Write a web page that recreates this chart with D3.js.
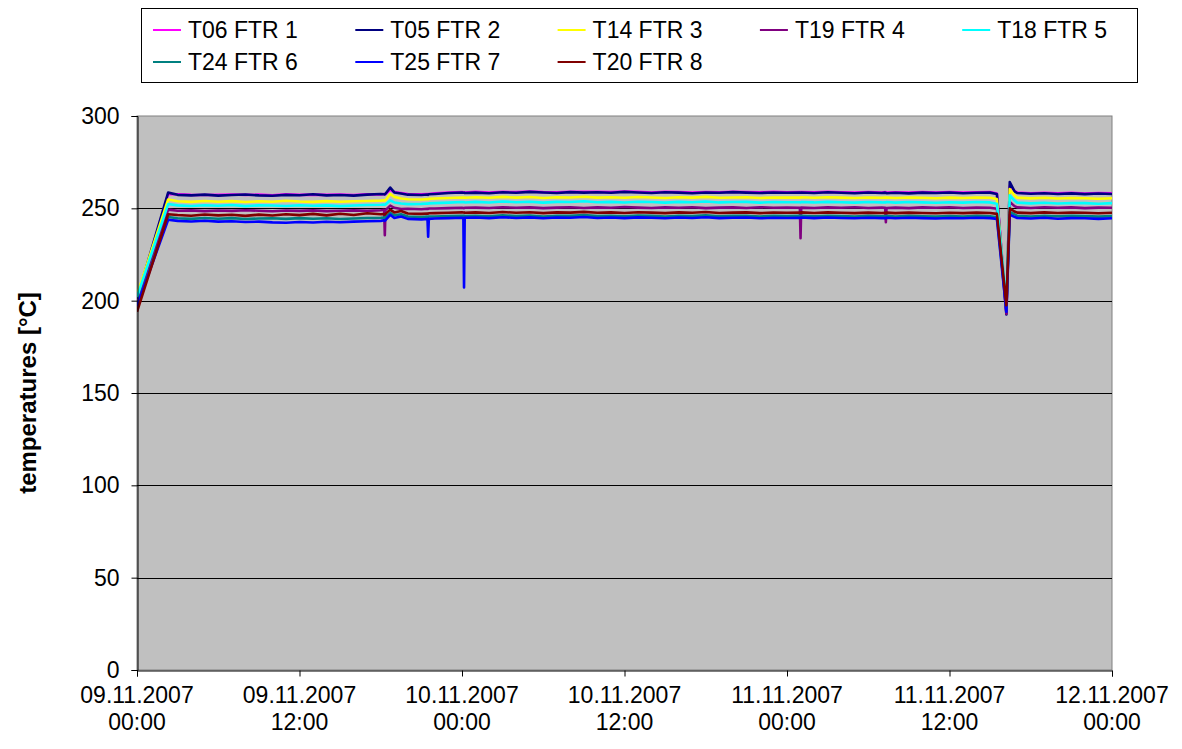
<!DOCTYPE html>
<html>
<head>
<meta charset="utf-8">
<script src="https://cdn.jsdelivr.net/npm/d3@7"></script>
<style>
  html, body { margin: 0; padding: 0; background: #ffffff; }
  svg { display: block; }
  text { font-family: "Liberation Sans", Arial, sans-serif; fill: #000; }
</style>
</head>
<body>
<svg id="chart" width="1182" height="749"></svg>
<script>
// ---------- data ----------
const startDate = new Date(2007, 10, 9, 0, 0);   // 09.11.2007 00:00
const hours = [
  0, 2.3,
  3, 4, 5, 6, 7, 8, 9, 10, 11, 12, 13, 14, 15, 16, 17, 18,
  18.25, 18.3, 18.35,
  18.7, 19, 19.5, 20, 21,
  21.45, 21.5, 21.55,
  22, 23, 24,
  24.1, 24.15, 24.2,
  25, 26, 27, 28, 29, 30, 31, 32, 33, 34, 35, 36, 37, 38, 39, 40, 41, 42, 43, 44, 45, 46, 47, 48,
  48.95, 49, 49.05,
  50, 51, 52, 53, 54, 55,
  55.25, 55.3, 55.35,
  56, 57, 58, 59, 60, 61, 62, 63,
  63.5, 64.2, 64.45, 64.8,
  65, 66, 67, 68, 69, 70, 71, 72
];

const seriesNames  = ["T06 FTR 1", "T05 FTR 2", "T14 FTR 3", "T19 FTR 4", "T18 FTR 5", "T24 FTR 6", "T25 FTR 7", "T20 FTR 8"];
const seriesColors = ["#FF00FF", "#000080", "#FFFF00", "#800080", "#00FFFF", "#008080", "#0000FF", "#800000"];

const t06 = [
  200, 257.8,
  257.6, 257.3, 257.2, 257.3, 257.5, 257.3, 257.4, 257.1, 257.6, 257.3, 257.4, 257.3, 257.5, 257.2, 257.6, 257.5,
  257.8, 257.6, 257.7,
  260.0, 258.8, 258.3, 257.8, 257.6,
  257.8, 257.7, 257.8,
  258.2, 258.6, 258.8,
  258.7, 258.7, 258.6,
  258.9, 258.6, 258.9, 258.8, 259.1, 258.8, 258.7, 259.0, 258.9, 258.9, 258.8, 259.1, 258.9, 258.6, 259.0, 258.8, 258.6, 258.8, 258.7, 259.0, 258.8, 258.7, 258.9, 258.7,
  258.8, 258.7, 258.8,
  258.7, 258.9, 258.7, 258.6, 258.8, 258.6,
  258.8, 258.7, 258.6,
  258.7, 258.5, 258.8, 258.6, 258.8, 258.5, 258.7, 258.8,
  258.0, 194.0, 262.0, 259.5,
  258.5, 258.2, 258.4, 258.1, 258.4, 258.0, 258.3, 258.1
];
const t05 = [
  201, 258.5,
  257.3, 257.0, 257.4, 256.9, 257.2, 257.5, 257.0, 256.8, 257.3, 257.1, 257.6, 257.0, 257.2, 256.9, 257.4, 257.8,
  257.6, 257.5, 257.9,
  261.2, 258.6, 258.0, 257.4, 257.2,
  257.5, 257.3, 257.6,
  257.8, 258.3, 258.6,
  258.4, 258.5, 258.3,
  258.5, 258.2, 258.7, 258.4, 258.9, 258.6, 258.3, 258.8, 258.5, 258.7, 258.4, 258.9, 258.6, 258.3, 258.7, 258.5, 258.2, 258.6, 258.4, 258.8, 258.5, 258.3, 258.6, 258.4,
  258.5, 258.4, 258.6,
  258.3, 258.7, 258.4, 258.2, 258.6, 258.3,
  258.5, 258.4, 258.2,
  258.4, 258.1, 258.5, 258.3, 258.6, 258.2, 258.4, 258.5,
  257.8, 192.5, 264.2, 259.2,
  258.3, 257.9, 258.2, 257.8, 258.1, 257.7, 258.0, 257.8
];
const t14 = [
  203, 254.8,
  253.8, 253.5, 254.0, 253.6, 253.9, 253.4, 253.8, 253.6, 254.1, 253.7, 253.5, 253.9, 253.6, 253.8, 254.0, 254.2,
  254.3, 254.2, 254.4,
  257.8, 256.2, 255.3, 254.9, 254.8,
  255.0, 254.9, 255.1,
  255.3, 255.6, 255.9,
  255.8, 255.9, 255.7,
  256.0, 255.7, 256.2, 255.8, 256.1, 255.6, 256.0, 255.9, 256.3, 255.8, 256.0, 255.7, 256.1, 255.9, 255.6, 256.0, 255.8, 256.2, 255.7, 255.9, 256.0, 255.6, 255.9, 255.8,
  255.9, 255.8, 256.0,
  255.7, 256.0, 255.8, 255.6, 255.9, 255.7,
  255.8, 255.7, 255.9,
  255.6, 255.9, 255.7, 255.5, 255.8, 255.6, 255.9, 255.7,
  255.0, 195.5, 260.5, 257.0,
  255.8, 255.4, 255.7, 255.3, 255.6, 255.5, 255.2, 255.5
];
const t19 = [
  198, 249.3,
  248.7, 248.9, 248.5, 248.8, 248.6, 249.0, 248.7, 248.4, 248.8, 248.6, 248.9, 248.5, 248.7, 248.9, 248.6, 249.0,
  249.2, 235.5, 249.0,
  251.5, 250.3, 249.6, 249.8, 249.5,
  249.8, 249.7, 249.9,
  249.9, 250.1, 250.3,
  250.2, 250.1, 250.3,
  250.4, 250.2, 250.6, 250.3, 250.5, 250.1, 250.4, 250.6, 250.2, 250.5, 250.3, 250.7, 250.4, 250.2, 250.5, 250.3, 250.6, 250.1, 250.4, 250.5, 250.2, 250.6, 250.3, 250.4,
  250.3, 233.8, 250.4,
  250.2, 250.5, 250.3, 250.6, 250.2, 250.4,
  250.3, 242.5, 250.2,
  250.4, 250.1, 250.5, 250.3, 250.6, 250.2, 250.4, 250.3,
  249.8, 193.0, 253.5, 251.2,
  250.5, 250.2, 250.6, 250.3, 250.5, 250.1, 250.4, 250.3
];
const t18 = [
  202, 252.3,
  251.6, 251.3, 251.7, 251.4, 251.8, 251.2, 251.6, 251.5, 251.3, 251.7, 251.4, 251.6, 251.2, 251.5, 251.8, 251.9,
  252.0, 251.9, 252.1,
  254.3, 253.2, 252.6, 252.3, 252.4,
  252.6, 252.5, 252.7,
  252.8, 253.1, 253.4,
  253.3, 253.4, 253.2,
  253.5, 253.2, 253.7, 253.3, 253.6, 253.1, 253.5, 253.4, 253.8, 253.3, 253.5, 253.2, 253.6, 253.4, 253.1, 253.5, 253.3, 253.7, 253.2, 253.4, 253.5, 253.1, 253.4, 253.3,
  253.3, 253.2, 253.4,
  253.2, 253.5, 253.3, 253.1, 253.4, 253.2,
  253.3, 253.2, 253.4,
  253.1, 253.4, 253.2, 253.0, 253.3, 253.1, 253.4, 253.2,
  252.5, 199.0, 257.0, 254.2,
  253.1, 252.7, 253.0, 252.6, 252.9, 252.8, 252.5, 252.8
];
const t24 = [
  197, 245.3,
  244.6, 244.3, 244.8, 244.4, 244.7, 244.2, 244.5, 244.6, 244.3, 244.7, 244.4, 244.6, 244.2, 244.5, 244.8, 244.9,
  245.0, 244.9, 245.1,
  247.5, 246.2, 246.8, 245.6, 245.3,
  245.5, 245.4, 245.6,
  245.6, 245.8, 246.0,
  245.9, 246.0, 245.8,
  246.0, 245.7, 246.2, 245.8, 246.1, 245.6, 246.0, 245.9, 246.3, 245.8, 246.0, 245.7, 246.1, 245.9, 245.6, 246.0, 245.8, 246.2, 245.7, 245.9, 246.0, 245.6, 245.9, 245.8,
  245.9, 245.8, 246.0,
  245.7, 246.0, 245.8, 245.6, 245.9, 245.7,
  245.8, 245.7, 245.9,
  245.6, 245.9, 245.7, 245.5, 245.8, 245.6, 245.9, 245.7,
  245.2, 196.0, 248.0, 246.8,
  245.9, 245.6, 246.0, 245.7, 245.9, 245.8, 245.5, 245.8
];
const t25 = [
  197, 243.8,
  243.2, 242.9, 243.3, 242.8, 243.0, 242.6, 242.8, 242.4, 242.2, 242.6, 242.3, 242.7, 242.5, 242.8, 243.0, 243.2,
  243.5, 243.2, 243.6,
  246.5, 244.8, 245.6, 244.3, 244.0,
  244.2, 234.6, 244.3,
  244.5, 244.7, 244.9,
  244.8, 207.2, 244.9,
  245.0, 244.7, 245.2, 244.8, 245.1, 244.6, 245.0, 244.9, 245.3, 244.8, 245.0, 244.7, 245.1, 244.9, 244.6, 245.0, 244.8, 245.2, 244.7, 244.9, 245.0, 244.6, 244.9, 244.8,
  244.9, 244.8, 245.0,
  244.7, 245.0, 244.8, 244.6, 244.9, 244.7,
  244.8, 244.7, 244.9,
  244.6, 244.9, 244.7, 244.5, 244.8, 244.6, 244.9, 244.7,
  244.3, 194.0, 246.5, 245.4,
  244.8, 244.5, 244.9, 244.4, 244.7, 244.6, 244.3, 244.6
];
const t20 = [
  194, 246.8,
  246.4, 246.0, 246.7, 246.2, 246.5, 245.9, 246.6, 246.1, 246.8, 246.3, 247.0, 246.2, 247.1, 246.4, 247.3, 246.8,
  246.9, 246.7, 247.0,
  249.3, 247.8, 248.6, 247.2, 247.0,
  247.2, 247.1, 247.3,
  247.4, 247.6, 247.8,
  247.7, 247.8, 247.6,
  247.8, 247.5, 248.0, 247.6, 247.9, 247.4, 247.8, 247.7, 248.1, 247.6, 247.8, 247.5, 247.9, 247.7, 247.4, 247.8, 247.6, 248.0, 247.5, 247.7, 247.8, 247.4, 247.7, 247.6,
  247.7, 247.6, 247.8,
  247.5, 247.8, 247.6, 247.4, 247.7, 247.5,
  247.6, 247.5, 247.7,
  247.4, 247.7, 247.5, 247.3, 247.6, 247.4, 247.7, 247.5,
  247.0, 197.5, 250.0, 248.3,
  247.7, 247.4, 247.8, 247.5, 247.7, 247.6, 247.3, 247.6
];
const seriesValues = [t06, t05, t14, t19, t18, t24, t25, t20];

const yTicks = [0, 50, 100, 150, 200, 250, 300];
const xTickHours = [0, 12, 24, 36, 48, 60, 72];
const yTitle = "temperatures [°C]";

// ---------- layout ----------
const svg = d3.select("#chart");
const plot = { left: 137, right: 1112, top: 116, bottom: 670 };
const FONT = 23;

const toDate = h => new Date(startDate.getTime() + h * 3600 * 1000);

const x = d3.scaleTime()
  .domain([toDate(0), toDate(72)])
  .range([plot.left, plot.right]);
const y = d3.scaleLinear()
  .domain([0, 300])
  .range([plot.bottom, plot.top]);

// plot area background
svg.append("rect")
  .attr("x", plot.left).attr("y", plot.top)
  .attr("width", plot.right - plot.left).attr("height", plot.bottom - plot.top)
  .attr("fill", "#C0C0C0")
  .attr("stroke", "#808080").attr("stroke-width", 1);

// gridlines
svg.append("g").selectAll("line")
  .data(yTicks.filter(v => v > 0 && v < 300))
  .join("line")
  .attr("x1", plot.left).attr("x2", plot.right)
  .attr("y1", d => Math.round(y(d)) + 0.5).attr("y2", d => Math.round(y(d)) + 0.5)
  .attr("stroke", "#000").attr("stroke-width", 1);

// series lines
const line = d3.line()
  .x((d, i) => x(toDate(hours[i])))
  .y(d => y(d));

svg.append("clipPath").attr("id", "plotclip")
  .append("rect")
  .attr("x", plot.left).attr("y", plot.top)
  .attr("width", plot.right - plot.left).attr("height", plot.bottom - plot.top);

const lines = svg.append("g").attr("clip-path", "url(#plotclip)");
seriesValues.forEach((vals, k) => {
  lines.append("path")
    .datum(vals)
    .attr("d", line)
    .attr("fill", "none")
    .attr("stroke", seriesColors[k])
    .attr("stroke-width", 2.6)
    .attr("stroke-linejoin", "round");
});

// y axis
const yAxis = d3.axisLeft(y).tickValues(yTicks).tickSize(6).tickPadding(12).tickFormat(d3.format("d"));
const gy = svg.append("g")
  .attr("transform", `translate(${plot.left + 0.5},0)`)
  .call(yAxis);
gy.select(".domain").attr("stroke", "#000");
gy.selectAll(".tick line").attr("stroke", "#000");
gy.selectAll(".tick text")
  .style("font-family", '"Liberation Sans", Arial, sans-serif')
  .style("font-size", FONT + "px")
  .attr("fill", "#000");

// x axis
const xAxis = d3.axisBottom(x)
  .tickValues(xTickHours.map(toDate))
  .tickSize(6)
  .tickFormat("");
const gx = svg.append("g")
  .attr("transform", `translate(0,${plot.bottom + 0.5})`)
  .call(xAxis);
gx.select(".domain").attr("stroke", "#000");
gx.selectAll(".tick line").attr("stroke", "#000");

const fmtDay = d3.timeFormat("%d.%m.%Y");
const fmtTime = d3.timeFormat("%H:%M");
const xl = svg.append("g").selectAll("text")
  .data(xTickHours.map(toDate))
  .join("text")
  .attr("x", d => x(d))
  .attr("text-anchor", "middle")
  .style("font-size", FONT + "px");
xl.append("tspan").attr("x", d => x(d)).attr("y", 703).text(d => fmtDay(d));
xl.append("tspan").attr("x", d => x(d)).attr("y", 730).text(d => fmtTime(d));

// y title
svg.append("text")
  .attr("transform", `translate(36,${(plot.top + plot.bottom) / 2}) rotate(-90)`)
  .attr("text-anchor", "middle")
  .style("font-size", "24px")
  .style("font-weight", "bold")
  .text(yTitle);

// legend
const legend = { x: 141, y: 8, w: 996, h: 74 };
svg.append("rect")
  .attr("x", legend.x + 0.5).attr("y", legend.y + 0.5)
  .attr("width", legend.w).attr("height", legend.h)
  .attr("fill", "#fff").attr("stroke", "#000").attr("stroke-width", 1);

const colW = 202.3;
const items = svg.append("g").selectAll("g")
  .data(seriesNames)
  .join("g")
  .attr("transform", (d, i) => `translate(${legend.x + 12 + (i % 5) * colW},${legend.y + 22 + Math.floor(i / 5) * 32})`);
items.append("line")
  .attr("x1", 0).attr("x2", 28).attr("y1", 0).attr("y2", 0)
  .attr("stroke", (d, i) => seriesColors[i]).attr("stroke-width", 2);
items.append("text")
  .attr("x", 35).attr("y", 0).attr("dy", "0.35em")
  .style("font-size", FONT + "px")
  .text(d => d);
</script>
</body>
</html>
